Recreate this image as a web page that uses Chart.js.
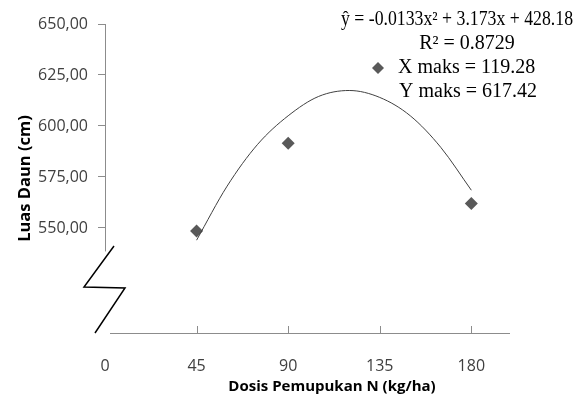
<!DOCTYPE html>
<html>
<head>
<meta charset="utf-8">
<script src="https://cdn.jsdelivr.net/npm/chart.js@4"></script>
<style>
  html, body { margin: 0; padding: 0; background: #fff; }
  #wrap { width: 586px; height: 400px; position: relative; }
</style>
</head>
<body>
<div id="wrap"><canvas id="chart" width="586" height="400"></canvas></div>
<script>
  // data titik pengamatan
  const dosisN = [45, 90, 180];
  const luasDaun = [548.5, 591.5, 562];

  // garis tren
  const trendX = [45, 60, 75, 90, 105, 120, 135, 150, 165, 180];
  const trendY = [544, 570.5, 591, 605, 614.5, 617.4, 614, 605, 589.5, 568.5];

  const xTicks = [0, 45, 90, 135, 180];
  const yTicks = [550, 575, 600, 625, 650];

  const xTitle = "Dosis Pemupukan N (kg/ha)";
  const yTitle = "Luas Daun (cm)";
  const infoLines = [
    "ŷ = -0.0133x² + 3.173x + 428.18",
    "R² = 0.8729",
    "X maks = 119.28",
    "Y maks = 617.42"
  ];

  const axisColor = "#8c8c8c";
  const textColor = "#404040";

  // plugin untuk garis sumbu, tanda patah dan keterangan persamaan
  const decorPlugin = {
    id: "decor",
    afterDraw(chart) {
      const ctx = chart.ctx;
      const xs = chart.scales.x;
      const ys = chart.scales.y;
      const x0 = xs.getPixelForValue(0);
      const yBottom = ys.bottom;

      ctx.save();
      // sumbu y (berhenti sebelum patahan)
      ctx.strokeStyle = axisColor;
      ctx.lineWidth = 1;
      ctx.beginPath();
      ctx.moveTo(x0 + 0.5, ys.getPixelForValue(650));
      ctx.lineTo(x0 + 0.5, ys.getPixelForValue(538.5));
      ctx.stroke();

      // sumbu x
      ctx.beginPath();
      ctx.moveTo(x0 + 5, yBottom + 0.5);
      ctx.lineTo(xs.right, yBottom + 0.5);
      ctx.stroke();

      // tanda tick sumbu x (ke dalam)
      xTicks.slice(1).forEach(v => {
        const px = Math.round(xs.getPixelForValue(v)) + 0.5;
        ctx.beginPath();
        ctx.moveTo(px, yBottom);
        ctx.lineTo(px, yBottom - 7);
        ctx.stroke();
      });

      // simbol patahan sumbu
      ctx.strokeStyle = "#000";
      ctx.lineWidth = 1.5;
      ctx.beginPath();
      ctx.moveTo(x0 + 9, yBottom - 87);
      ctx.lineTo(x0 - 21, yBottom - 46);
      ctx.lineTo(x0 + 20, yBottom - 45);
      ctx.lineTo(x0 - 10, yBottom);
      ctx.stroke();

      // judul sumbu x
      ctx.fillStyle = "#000";
      ctx.font = "bold 15px 'Open Sans', sans-serif";
      ctx.textAlign = "center";
      ctx.textBaseline = "middle";
      ctx.fillText(xTitle, 332, 387);

      // keterangan persamaan
      ctx.font = "20px 'Liberation Serif', 'Times New Roman', serif";
      ctx.textAlign = "left";
      ctx.fillText(infoLines[0], 341, 20, 232);
      ctx.textAlign = "center";
      ctx.fillText(infoLines[1], 467, 44);
      ctx.textAlign = "left";
      ctx.fillText(infoLines[2], 398, 68);
      ctx.fillText(infoLines[3], 399, 92);

      // simbol diamond legenda
      ctx.fillStyle = "#595959";
      ctx.beginPath();
      ctx.moveTo(378, 62);
      ctx.lineTo(384, 68);
      ctx.lineTo(378, 74);
      ctx.lineTo(372, 68);
      ctx.closePath();
      ctx.fill();
      ctx.restore();
    }
  };

  const ctx = document.getElementById("chart").getContext("2d");
  new Chart(ctx, {
    type: "scatter",
    data: {
      datasets: [
        {
          label: "Tren",
          data: trendX.map((x, i) => ({ x: x, y: trendY[i] })),
          showLine: true,
          borderColor: "#404040",
          borderWidth: 1,
          pointRadius: 0,
          cubicInterpolationMode: "monotone",
          fill: false
        },
        {
          label: "Luas Daun",
          data: dosisN.map((x, i) => ({ x: x, y: luasDaun[i] })),
          pointStyle: "rectRot",
          pointRadius: 6.5,
          backgroundColor: "#595959",
          borderColor: "#595959",
          borderWidth: 0
        }
      ]
    },
    options: {
      responsive: false,
      animation: false,
      layout: { padding: { top: 24, right: 76, left: 0, bottom: 0 } },
      plugins: {
        legend: { display: false },
        tooltip: { enabled: false }
      },
      scales: {
        x: {
          type: "linear",
          min: 0,
          max: 199,
          afterBuildTicks: s => { s.ticks = xTicks.map(v => ({ value: v })); },
          afterFit: s => { s.height = 67; },
          grid: { display: false },
          border: { display: false },
          ticks: {
            padding: 16,
            color: textColor,
            font: { family: "'Open Sans', sans-serif", size: 16 },
            maxRotation: 0
          }
        },
        y: {
          type: "linear",
          min: 498.5,
          max: 650,
          afterBuildTicks: s => { s.ticks = yTicks.map(v => ({ value: v })); },
          afterFit: s => { s.width = 105; },
          grid: {
            drawOnChartArea: false,
            drawTicks: true,
            tickLength: 7,
            color: axisColor
          },
          border: { display: false },
          ticks: {
            padding: 10,
            color: textColor,
            font: { family: "'Open Sans', sans-serif", size: 16 },
            callback: v => v.toFixed(2).replace(".", ",")
          },
          title: {
            display: true,
            text: yTitle,
            color: "#000",
            font: { family: "'Open Sans', sans-serif", size: 16.5, weight: "bold" },
            padding: { top: 15, bottom: 0 }
          }
        }
      }
    },
    plugins: [decorPlugin]
  });
</script>
</body>
</html>
